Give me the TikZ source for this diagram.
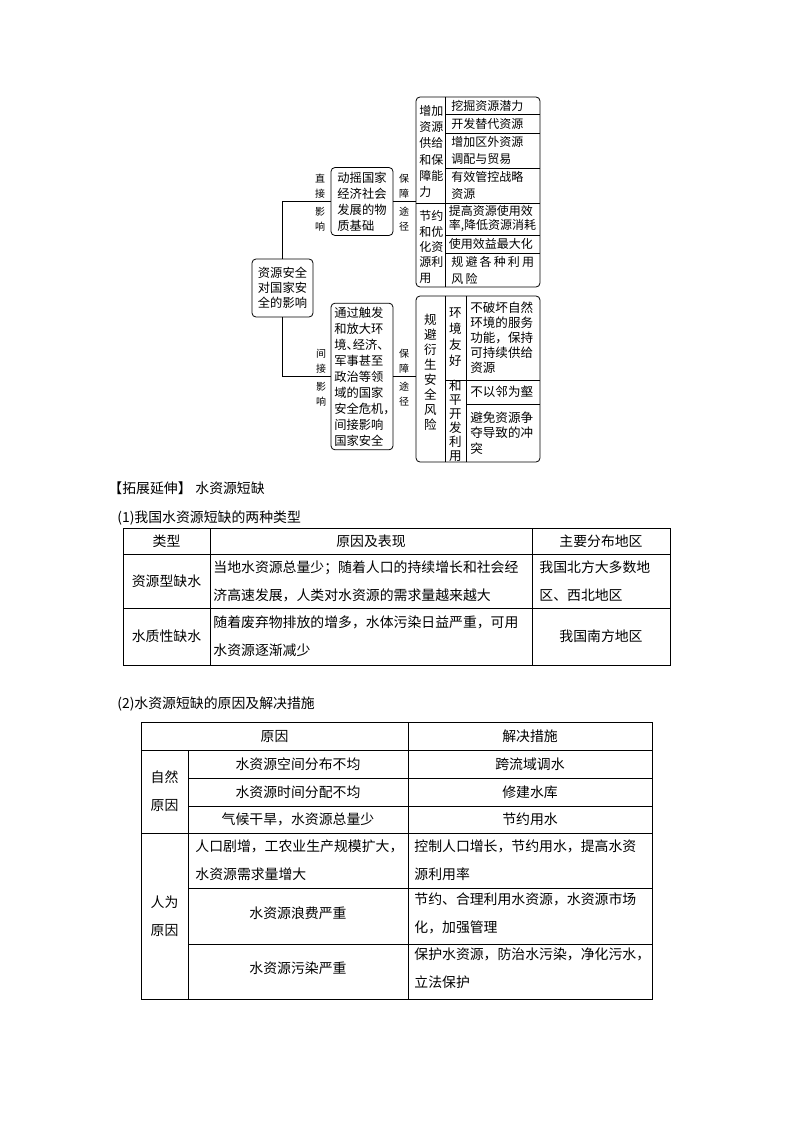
\documentclass[tikz,border=0pt]{standalone}
\usepackage{fontspec}
\setmainfont{Noto Sans CJK SC}
\usetikzlibrary{positioning}
\newcommand\hcr[1]{\makebox[.5em][l]{#1}}
\newcommand\hcl[1]{\makebox[.5em][r]{#1}}
\newcommand\wsp{\hspace{1.6pt}}

\begin{document}
\begin{tikzpicture}[
    x=0.75pt, y=-0.75pt, line width=0.6pt,
    box/.style={draw, rounded corners=3pt, align=left, inner sep=0pt, font=\fontsize{9.2}{12}\selectfont},
    frame/.style={draw, rounded corners=3pt, inner sep=0pt, minimum width=93pt},
    lbl/.style={align=center, inner sep=0pt, font=\fontsize{7.5}{11.2}\selectfont},
    cell/.style={anchor=west, align=left, inner sep=0pt, font=\fontsize{9}{12.75}\selectfont},
    vcell/.style={align=center, inner sep=0pt},
    head/.style={anchor=west, inner sep=0pt, font=\fontsize{10.4}{14}\selectfont},
    tcell/.style={align=center, inner sep=0pt, font=\fontsize{10.4}{21}\selectfont},
    tleft/.style={anchor=west, align=left, inner sep=0pt, font=\fontsize{10.4}{21}\selectfont}
]
\useasboundingbox (0,0) rectangle (794,1123);

% tree
\node[box, minimum width=45.75pt, minimum height=43.5pt, font=\fontsize{9.2}{11.2}\selectfont] (root) at (282.5,288) {资源安全\\对国家安\\全的影响};
\node[box, minimum width=46.5pt, minimum height=51pt] (direct) at (362,201.5) {动摇国家\\经济社会\\发展的物\\质基础};
\node[box, minimum width=46.5pt, minimum height=110pt] (indirect) at (362,376.5) {通过触发\\和放大环\\境\hcr{、}经济\hcr{、}\\军事甚至\\政治等领\\域的国家\\安全危机\hcr{，}\\间接影响\\国家安全};
\node[frame, minimum height=142.5pt] (supply) at (478,192) {};
\node[frame, minimum height=124.5pt] (avoid) at (478,379) {};

\draw (root.north) |- (direct.west);
\draw (root.south) |- (indirect.west);
\draw (direct.east) -- (direct.east -| supply.west);
\draw (indirect.east) -- (indirect.east -| avoid.west);

\node[lbl] (zj) at (320,186.5) {直\\接};
\node[lbl] (zy) at (320,219.5) {影\\响};
\node[lbl] (bz1) at (404,186.5) {保\\障};
\node[lbl] (tj1) at (404,219.5) {途\\径};
\node[lbl] (jj) at (321,361.5) {间\\接};
\node[lbl] (jy) at (321,394.5) {影\\响};
\node[lbl] (bz2) at (404,361.5) {保\\障};
\node[lbl] (tj2) at (404,394.5) {途\\径};

% supply box
\draw (445,97) -- (445,287);
\foreach \y in {114,133,168,235,253} \draw (445,\y) -- (540,\y);
\draw (416,203) -- (540,203);
\node[cell, font=\fontsize{9}{12.2}\selectfont] (zg) at (419,151.5) {增加\\资源\\供给\\和保\\障能\\力};
\node[cell, font=\fontsize{9}{11.6}\selectfont] (jy2) at (419,247) {节约\\和优\\化资\\源利\\用};
\node[cell] (c1) at (451,105.5) {挖掘资源潜力};
\node[cell] (c2) at (451,123.5) {开发替代资源};
\node[cell] (c3) at (451,150.5) {增加区外资源\\调配与贸易};
\node[cell] (c4) at (451,185.5) {有效管控战略\\资源};
\node[cell, font=\fontsize{9}{10.5}\selectfont] (c5) at (448.5,219) {提高资源使用效\\率,降低资源消耗};
\node[cell] (c6) at (448.5,244) {使用效益最大化};
\node[cell] (c7) at (451,270) {规\wsp 避\wsp 各\wsp 种\wsp 利\wsp 用\\风\wsp 险};

% avoid box
\draw (445,296) -- (445,462);
\draw (466,296) -- (466,462);
\draw (445,380) -- (540,380);
\draw (466,404) -- (540,404);
\node[vcell, font=\fontsize{9.4}{11.25}\selectfont] (gb) at (430.5,372.5) {规\\避\\衍\\生\\安\\全\\风\\险};
\node[vcell, font=\fontsize{9.4}{12}\selectfont] (hj) at (455.5,337) {环\\境\\友\\好};
\node[vcell, font=\fontsize{9.4}{10.5}\selectfont] (hp) at (455.5,421) {和\\平\\开\\发\\利\\用};
\node[cell, font=\fontsize{9.4}{11.3}\selectfont] (d1) at (470,338) {不破坏自然\\环境的服务\\功能，保持\\可持续供给\\资源};
\node[cell, font=\fontsize{9.4}{11.3}\selectfont] (d2) at (470,392) {不以邻为壑};
\node[cell, font=\fontsize{9.4}{11.6}\selectfont] (d3) at (470,433) {避免资源争\\夺导致的冲\\突};

% headings
\node[head] (ext) at (115,488) {\hcl{【}拓展延伸\hcr{】}\hspace{8pt}水资源短缺};
\node[head] (t1) at (117,518) {(1)我国水资源短缺的两种类型};
\node[head] (t2) at (117,704) {(2)水资源短缺的原因及解决措施};

% table 1
\draw (123,528) rectangle (670,665);
\foreach \y in {554,608} \draw (123,\y) -- (670,\y);
\foreach \x in {210,532} \draw (\x,528) -- (\x,665);
\node[tcell] (lx) at (166.5,541) {类型};
\node[tcell] (yb) at (371,541) {原因及表现};
\node[tcell] (fb) at (601,541) {主要分布地区};
\node[tcell] (zyx) at (166.5,581) {资源型缺水};
\node[tleft] (zyy) at (213,581) {当地水资源总量少；随着人口的持续增长和社会经\\济高速发展，人类对水资源的需求量越来越大};
\node[tleft] (zyd) at (539,581) {我国北方大多数地\\区、西北地区};
\node[tcell] (szx) at (166.5,636) {水质性缺水};
\node[tleft] (szy) at (213,636) {随着废弃物排放的增多，水体污染日益严重，可用\\水资源逐渐减少};
\node[tcell] (szd) at (601,636) {我国南方地区};

% table 2
\draw (141,722) rectangle (652,999);
\foreach \y in {750,833} \draw (141,\y) -- (652,\y);
\foreach \y in {778,806,888,944} \draw (188,\y) -- (652,\y);
\draw (188,750) -- (188,999);
\draw (408,722) -- (408,999);
\node[tcell] (yy) at (274.5,736) {原因};
\node[tcell] (js) at (530,736) {解决措施};
\node[tcell] (zr) at (164.5,791) {自然\\原因};
\node[tcell] (kj) at (298,764) {水资源空间分布不均};
\node[tcell] (kl) at (530,764) {跨流域调水};
\node[tcell] (sj) at (298,792) {水资源时间分配不均};
\node[tcell] (xj) at (530,792) {修建水库};
\node[tcell] (qh) at (298,819.5) {气候干旱，水资源总量少};
\node[tcell] (jy3) at (530,819.5) {节约用水};
\node[tcell] (rw) at (164.5,916) {人为\\原因};
\node[tleft] (rk) at (195,860.5) {人口剧增，工农业生产规模扩大，\\水资源需求量增大};
\node[tleft] (kz) at (414,860.5) {控制人口增长，节约用水，提高水资\\源利用率};
\node[tcell] (lf) at (298,913) {水资源浪费严重};
\node[tleft] (hl) at (414,913) {节约、合理利用水资源，水资源市场\\化，加强管理};
\node[tcell] (wr) at (298,968) {水资源污染严重};
\node[tleft] (bh) at (414,968) {保护水资源，防治水污染，净化污水，\\立法保护};
\end{tikzpicture}
\end{document}
